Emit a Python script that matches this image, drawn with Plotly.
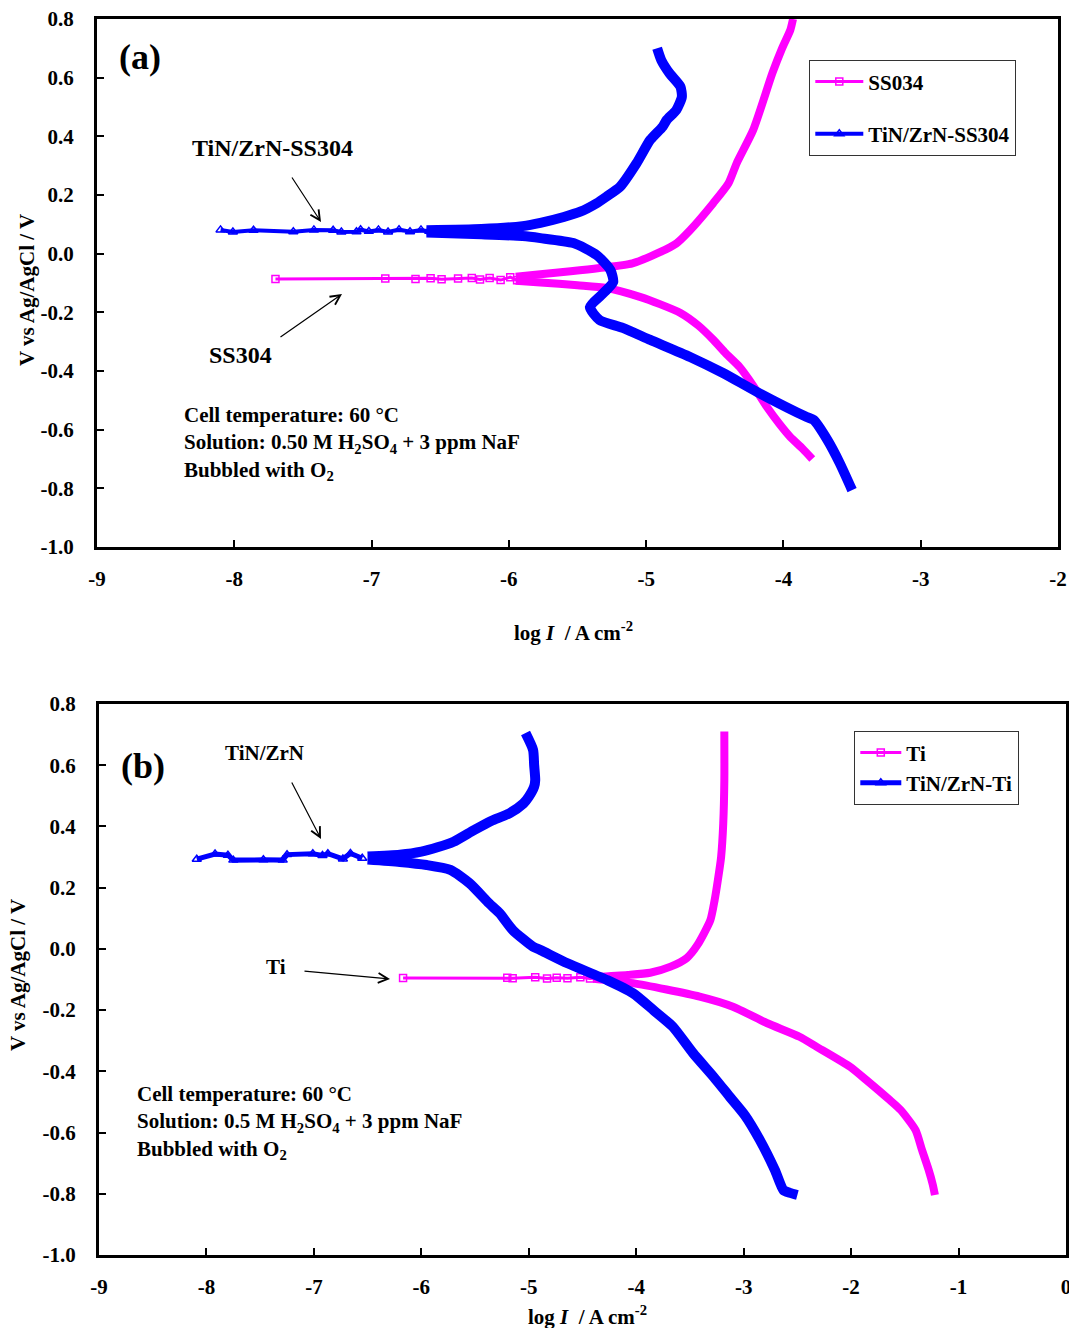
import plotly.graph_objects as go

W, H = 1069, 1328
FONT = "Liberation Serif"
MAG = "#FF00FF"
BLU = "#0000FF"

# ---------------- Panel (a) data ----------------
a_ss_flat_x = [-7.70, -6.90, -6.68, -6.57, -6.49, -6.37, -6.27, -6.21, -6.14, -6.06, -5.99, -5.94]
a_ss_flat_y = [-0.086, -0.085, -0.086, -0.084, -0.087, -0.085, -0.083, -0.088, -0.083, -0.090, -0.080, -0.091]
a_ss_an_x = [-5.95, -5.77, -5.55, -5.34, -5.10, -4.90, -4.78, -4.68, -4.51, -4.40, -4.34, -4.22, -4.08, -4.01, -3.95, -3.93]
a_ss_an_y = [-0.079, -0.070, -0.060, -0.049, -0.033, 0.005, 0.035, 0.080, 0.173, 0.240, 0.309, 0.422, 0.616, 0.700, 0.762, 0.800]
a_ss_ca_x = [-5.95, -5.77, -5.50, -5.29, -5.04, -4.90, -4.75, -4.62, -4.51, -4.42, -4.32, -4.22, -4.12, -4.03, -3.95, -3.86, -3.79]
a_ss_ca_y = [-0.092, -0.098, -0.108, -0.117, -0.148, -0.172, -0.202, -0.245, -0.294, -0.340, -0.386, -0.450, -0.523, -0.580, -0.625, -0.665, -0.700]

a_tz_flat_x = [-8.10, -8.01, -7.86, -7.57, -7.42, -7.28, -7.22, -7.11, -7.08, -7.02, -6.95, -6.88, -6.80, -6.72, -6.64, -6.58]
a_tz_flat_y = [0.081, 0.074, 0.080, 0.075, 0.081, 0.080, 0.074, 0.075, 0.082, 0.076, 0.081, 0.074, 0.082, 0.075, 0.081, 0.076]
a_tz_an_x = [-6.60, -6.20, -5.90, -5.77, -5.60, -5.48, -5.36, -5.29, -5.19, -5.07, -4.97, -4.88, -4.85, -4.78, -4.74, -4.75, -4.83, -4.89, -4.92]
a_tz_an_y = [0.080, 0.084, 0.094, 0.105, 0.125, 0.143, 0.172, 0.194, 0.228, 0.308, 0.388, 0.433, 0.456, 0.490, 0.534, 0.569, 0.615, 0.660, 0.700]
a_tz_ca_x = [-6.60, -6.20, -5.90, -5.77, -5.53, -5.36, -5.26, -5.24, -5.31, -5.41, -5.34, -5.17, -4.97, -4.68, -4.44, -4.19, -3.83, -3.78, -3.68, -3.59, -3.50]
a_tz_ca_y = [0.072, 0.066, 0.060, 0.053, 0.036, -0.005, -0.056, -0.097, -0.134, -0.182, -0.226, -0.253, -0.294, -0.352, -0.407, -0.472, -0.557, -0.567, -0.635, -0.714, -0.806]

# ---------------- Panel (b) data ----------------
b_ti_flat_x = [-6.17, -5.20, -5.15, -4.94, -4.83, -4.74, -4.64, -4.52, -4.43, -4.34]
b_ti_flat_y = [-0.095, -0.094, -0.096, -0.093, -0.097, -0.094, -0.096, -0.093, -0.097, -0.094]
b_ti_an_x = [-4.40, -4.08, -3.87, -3.68, -3.53, -3.43, -3.31, -3.27, -3.24, -3.21, -3.19, -3.18, -3.18]
b_ti_an_y = [-0.092, -0.085, -0.078, -0.058, -0.030, 0.013, 0.094, 0.160, 0.225, 0.300, 0.410, 0.550, 0.710]
b_ti_ca_x = [-4.40, -4.03, -3.41, -3.10, -2.78, -2.48, -2.32, -2.01, -1.86, -1.64, -1.54, -1.40, -1.34, -1.28, -1.24, -1.22]
b_ti_ca_y = [-0.098, -0.112, -0.156, -0.189, -0.243, -0.287, -0.320, -0.385, -0.428, -0.494, -0.526, -0.592, -0.657, -0.720, -0.770, -0.804]

b_tz_flat_x = [-8.09, -7.92, -7.80, -7.75, -7.47, -7.29, -7.25, -7.01, -6.92, -6.87, -6.73, -6.66, -6.55]
b_tz_flat_y = [0.293, 0.310, 0.306, 0.290, 0.291, 0.290, 0.308, 0.311, 0.305, 0.311, 0.294, 0.312, 0.296]
b_tz_an_x = [-6.50, -6.20, -6.00, -5.85, -5.70, -5.51, -5.35, -5.18, -5.05, -5.00, -4.95, -4.94, -4.95, -4.96, -5.03]
b_tz_an_y = [0.302, 0.308, 0.318, 0.332, 0.350, 0.388, 0.418, 0.443, 0.475, 0.497, 0.530, 0.552, 0.600, 0.650, 0.705]
b_tz_ca_x = [-6.50, -6.20, -5.95, -5.73, -5.55, -5.37, -5.27, -5.15, -4.96, -4.89, -4.64, -4.27, -4.03, -3.84, -3.66, -3.47, -3.28, -3.13, -2.99, -2.85, -2.71, -2.63, -2.57, -2.50]
b_tz_ca_y = [0.292, 0.284, 0.274, 0.258, 0.214, 0.149, 0.116, 0.062, 0.007, -0.004, -0.047, -0.102, -0.145, -0.200, -0.254, -0.341, -0.418, -0.483, -0.543, -0.624, -0.722, -0.788, -0.797, -0.804]

# ---------------- ticks ----------------
y_tickvals = [0.8, 0.6, 0.4, 0.2, 0.0, -0.2, -0.4, -0.6, -0.8, -1.0]
y_ticktext = ["0.8", "0.6", "0.4", "0.2", "0.0", "-0.2", "-0.4", "-0.6", "-0.8", "-1.0"]
a_x_tickvals = [-9, -8, -7, -6, -5, -4, -3, -2]
a_x_ticktext = ["-9", "-8", "-7", "-6", "-5", "-4", "-3", "-2"]
b_x_tickvals = [-9, -8, -7, -6, -5, -4, -3, -2, -1, 0]
b_x_ticktext = ["-9", "-8", "-7", "-6", "-5", "-4", "-3", "-2", "-1", "0"]

fig = go.Figure()


def add_series(name, color, symbol, msize, fx, fy, ax_, ay_, cx, cy, xa, ya, legend, dense_w, flat_w):
    fig.add_trace(go.Scatter(x=fx, y=fy, mode="lines+markers", name=name,
                             line=dict(color=color, width=flat_w),
                             marker=dict(symbol=symbol, size=msize, color=color,
                                         line=dict(color=color, width=1.5)),
                             xaxis=xa, yaxis=ya, legend=legend, legendgroup=name,
                             showlegend=True))
    for xs, ys in ((ax_, ay_), (cx, cy)):
        fig.add_trace(go.Scatter(x=xs, y=ys, mode="lines", name=name,
                                 line=dict(color=color, width=dense_w, shape="spline", smoothing=0.6),
                                 xaxis=xa, yaxis=ya, legend=legend, legendgroup=name,
                                 showlegend=False))


add_series("SS034", MAG, "square-open", 7, a_ss_flat_x, a_ss_flat_y, a_ss_an_x, a_ss_an_y,
           a_ss_ca_x, a_ss_ca_y, "x", "y", "legend", 8, 3)
add_series("TiN/ZrN-SS304", BLU, "triangle-up-open", 8, a_tz_flat_x, a_tz_flat_y, a_tz_an_x, a_tz_an_y,
           a_tz_ca_x, a_tz_ca_y, "x", "y", "legend", 10, 4)
add_series("Ti", MAG, "square-open", 7, b_ti_flat_x, b_ti_flat_y, b_ti_an_x, b_ti_an_y,
           b_ti_ca_x, b_ti_ca_y, "x2", "y2", "legend2", 8, 3)
add_series("TiN/ZrN-Ti", BLU, "triangle-up-open", 8, b_tz_flat_x, b_tz_flat_y, b_tz_an_x, b_tz_an_y,
           b_tz_ca_x, b_tz_ca_y, "x2", "y2", "legend2", 10, 5)


def px(x):
    return x / W


def py(y):
    return 1 - y / H


tickfont = dict(family=FONT, size=21, color="black", weight="bold")
axis_common = dict(showline=True, linecolor="black", linewidth=3, mirror=True,
                   ticks="inside", ticklen=7, tickwidth=2, tickcolor="black",
                   showgrid=False, zeroline=False, tickfont=tickfont, automargin=False,
                   ticklabeloverflow="allow")

fig.update_layout(
    width=W, height=H, template="none",
    margin=dict(l=0, r=0, t=0, b=0),
    paper_bgcolor="white", plot_bgcolor="white",
    xaxis=dict(domain=[px(97), px(1058)], range=[-9, -2], tickvals=a_x_tickvals, ticktext=a_x_ticktext,
               anchor="y", ticklabelstandoff=11, **axis_common),
    yaxis=dict(domain=[py(547), py(19)], range=[-1.0, 0.8], tickvals=y_tickvals, ticktext=y_ticktext,
               anchor="x", ticklabelstandoff=16, **axis_common),
    xaxis2=dict(domain=[px(99), px(1066)], range=[-9, 0], tickvals=b_x_tickvals, ticktext=b_x_ticktext,
                anchor="y2", ticklabelstandoff=11, **axis_common),
    yaxis2=dict(domain=[py(1255), py(704)], range=[-1.0, 0.8], tickvals=y_tickvals, ticktext=y_ticktext,
                anchor="x2", ticklabelstandoff=16, **axis_common),
    legend=dict(x=px(809), y=py(60), xanchor="left", yanchor="top", bgcolor="white",
                bordercolor="#333", borderwidth=1.3, traceorder="grouped", tracegroupgap=22,
                font=dict(family=FONT, size=21, color="black", weight="bold"), itemwidth=48),
    legend2=dict(x=px(854), y=py(731), xanchor="left", yanchor="top", bgcolor="white",
                 bordercolor="#333", borderwidth=1.3, traceorder="grouped", tracegroupgap=0,
                 font=dict(family=FONT, size=21, color="black", weight="bold"), itemwidth=41),
    showlegend=True,
)

ann = []


def text(t, x, y, size=21, xanchor="center", align="center", angle=0):
    ann.append(dict(text=t, x=px(x), y=py(y), xref="paper", yref="paper", showarrow=False,
                    xanchor=xanchor, yanchor="middle", align=align, textangle=angle,
                    font=dict(family=FONT, size=size, color="black", weight="bold")))


def arrow(hx, hy, tx, ty):
    ann.append(dict(text="", x=px(hx), y=py(hy), xref="paper", yref="paper", showarrow=True,
                    ax=tx - hx, ay=ty - hy, arrowhead=5, arrowsize=1.6, arrowwidth=1.2,
                    arrowcolor="black"))


# panel (a)
text("(a)", 140, 57, size=36)
text("TiN/ZrN-SS304", 272, 148, size=24)
arrow(321, 222, 291, 176)
text("SS304", 240, 355, size=24)
arrow(342, 294, 279, 338)
text("Cell temperature: 60 °C<br>Solution: 0.50 M H<sub>2</sub>SO<sub>4</sub> + 3 ppm NaF<br>Bubbled with O<sub>2</sub>",
     182, 443, size=21, xanchor="left", align="left")
text("V vs Ag/AgCl / V", 27, 290, size=21, angle=-90)
text("log <i>I</i>  / A cm<sup>-2</sup>", 573, 632, size=21)

# panel (b)
text("(b)", 143, 766, size=36)
text("TiN/ZrN", 264, 753, size=21)
arrow(321, 839, 291, 781)
text("Ti", 276, 967, size=21)
arrow(390, 979, 303, 971)
text("Cell temperature: 60 °C<br>Solution: 0.5 M H<sub>2</sub>SO<sub>4</sub> + 3 ppm NaF<br>Bubbled with O<sub>2</sub>",
     135, 1122, size=21, xanchor="left", align="left")
text("V vs Ag/AgCl / V", 18, 975, size=21, angle=-90)
text("log <i>I</i>  / A cm<sup>-2</sup>", 587, 1315, size=21)

fig.update_layout(annotations=ann)
fig.write_html("out.html", config={"displayModeBar": False},
               post_script="document.body.style.margin='0px';")
